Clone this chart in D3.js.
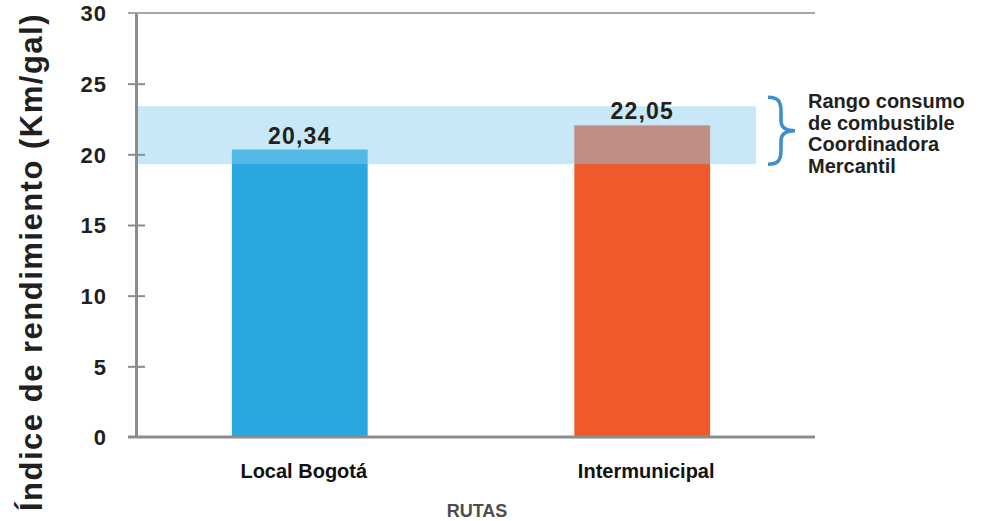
<!DOCTYPE html>
<html>
<head>
<meta charset="utf-8">
<script src="https://cdn.jsdelivr.net/npm/d3@7"></script>
<style>
  html, body { margin: 0; padding: 0; background: #ffffff; }
  svg { display: block; }
</style>
</head>
<body>
<svg id="chart" width="981" height="521"></svg>
<script>
// Fuel efficiency by route type (Km/gal)
const categories = ["Local Bogotá", "Intermunicipal"];
const values = [20.34, 22.05];
const valueLabels = ["20,34", "22,05"];
const barColors = ["#29a8df", "#ef5a2a"];
const yTicks = [0, 5, 10, 15, 20, 25, 30];
// Reference fuel consumption range
const rangeBand = [19.3, 23.4];
const rangeLabel = ["Rango consumo", "de combustible", "Coordinadora", "Mercantil"];

const svg = d3.select("#chart");
const plotLeft = 136, plotTop = 13, plotBottom = 437, plotRight = 815;

const y = d3.scaleLinear().domain([0, 30]).range([plotBottom, plotTop]);
const x = d3.scaleBand().domain(categories).range([plotLeft, 806]).paddingInner(0.6035).paddingOuter(0.28);

const sans = "'Liberation Sans', Arial, Helvetica, sans-serif";

// top frame line
svg.append("line")
  .attr("x1", plotLeft - 8).attr("x2", plotRight)
  .attr("y1", y(30)).attr("y2", y(30))
  .attr("stroke", "#a6a6a6").attr("stroke-width", 2);

// bars
svg.append("g").selectAll("rect")
  .data(values)
  .join("rect")
  .attr("x", (d, i) => x(categories[i]))
  .attr("width", x.bandwidth())
  .attr("y", d => y(d))
  .attr("height", d => y(0) - y(d))
  .attr("fill", (d, i) => barColors[i]);

// translucent range band over the bars
svg.append("rect")
  .attr("x", plotLeft + 1)
  .attr("width", 756 - plotLeft - 1)
  .attr("y", y(rangeBand[1]))
  .attr("height", y(rangeBand[0]) - y(rangeBand[1]))
  .attr("fill", "rgb(133,204,240)")
  .attr("fill-opacity", 0.45);

// y axis
const yAxis = d3.axisLeft(y).tickValues(yTicks).tickSize(0).tickPadding(0).tickFormat(d3.format("d"));
const gy = svg.append("g").attr("transform", `translate(${plotLeft},0)`).call(yAxis);
gy.select(".domain").attr("stroke", "#8c8c8c").attr("stroke-width", 3);
gy.selectAll(".tick text")
  .attr("x", -29)
  .attr("dy", "0.36em")
  .attr("text-anchor", "end")
  .attr("fill", "#231f20")
  .style("font-family", sans)
  .style("font-weight", "bold")
  .style("font-size", "22px")
  .style("letter-spacing", "1px");
// ticks crossing the axis
gy.selectAll(".tick").filter(d => d !== 0 && d !== 30).append("line")
  .attr("x1", -8).attr("x2", 9)
  .attr("stroke", "#8c8c8c").attr("stroke-width", 2);

// x axis baseline
svg.append("line")
  .attr("x1", plotLeft - 8).attr("x2", plotRight)
  .attr("y1", y(0)).attr("y2", y(0))
  .attr("stroke", "#8c8c8c").attr("stroke-width", 3);

// value labels
svg.append("g").selectAll("text")
  .data(values)
  .join("text")
  .attr("x", (d, i) => x(categories[i]) + x.bandwidth() / 2)
  .attr("y", d => y(d) - 6)
  .attr("text-anchor", "middle")
  .attr("fill", "#231f20")
  .style("font-family", sans)
  .style("font-weight", "bold")
  .style("font-size", "23px")
  .style("letter-spacing", "1.2px")
  .text((d, i) => valueLabels[i]);

// category labels
svg.append("g").selectAll("text")
  .data(categories)
  .join("text")
  .attr("x", d => x(d) + x.bandwidth() / 2 + 4)
  .attr("y", 478)
  .attr("text-anchor", "middle")
  .attr("fill", "#111")
  .style("font-family", sans)
  .style("font-weight", "bold")
  .style("font-size", "20px")
  .text(d => d);

// x axis title
svg.append("text")
  .attr("x", 477).attr("y", 517)
  .attr("text-anchor", "middle")
  .attr("fill", "#4d4d4d")
  .style("font-family", sans)
  .style("font-weight", "bold")
  .style("font-size", "18px")
  .text("RUTAS");

// y axis title
svg.append("text")
  .attr("transform", "translate(42,262) rotate(-90)")
  .attr("text-anchor", "middle")
  .attr("fill", "#231f20")
  .style("font-family", sans)
  .style("font-weight", "bold")
  .style("font-size", "31px")
  .style("letter-spacing", "1.5px")
  .text("Índice de rendimiento (Km/gal)");

// curly brace marking the range
const bTop = y(rangeBand[1]) - 9, bBot = y(rangeBand[0]), bMid = (bTop + bBot) / 2;
const bx = 768;
const brace = `M${bx},${bTop} C${bx + 10},${bTop} ${bx + 13},${bTop + 4} ${bx + 13},${bTop + 14}
  L${bx + 13},${bMid - 10} C${bx + 13},${bMid - 3} ${bx + 18},${bMid} ${bx + 27},${bMid}
  C${bx + 18},${bMid} ${bx + 13},${bMid + 3} ${bx + 13},${bMid + 10}
  L${bx + 13},${bBot - 14} C${bx + 13},${bBot - 4} ${bx + 10},${bBot} ${bx},${bBot}`;
svg.append("path")
  .attr("d", brace)
  .attr("fill", "none")
  .attr("stroke", "#3b8fd1")
  .attr("stroke-width", 3.5);

// range annotation text
svg.append("text")
  .attr("x", 808).attr("y", 108)
  .attr("fill", "#231f20")
  .style("font-family", sans)
  .style("font-weight", "bold")
  .style("font-size", "20px")
  .selectAll("tspan")
  .data(rangeLabel)
  .join("tspan")
  .attr("x", 808)
  .attr("dy", (d, i) => i === 0 ? 0 : 21.5)
  .text(d => d);
</script>
</body>
</html>
